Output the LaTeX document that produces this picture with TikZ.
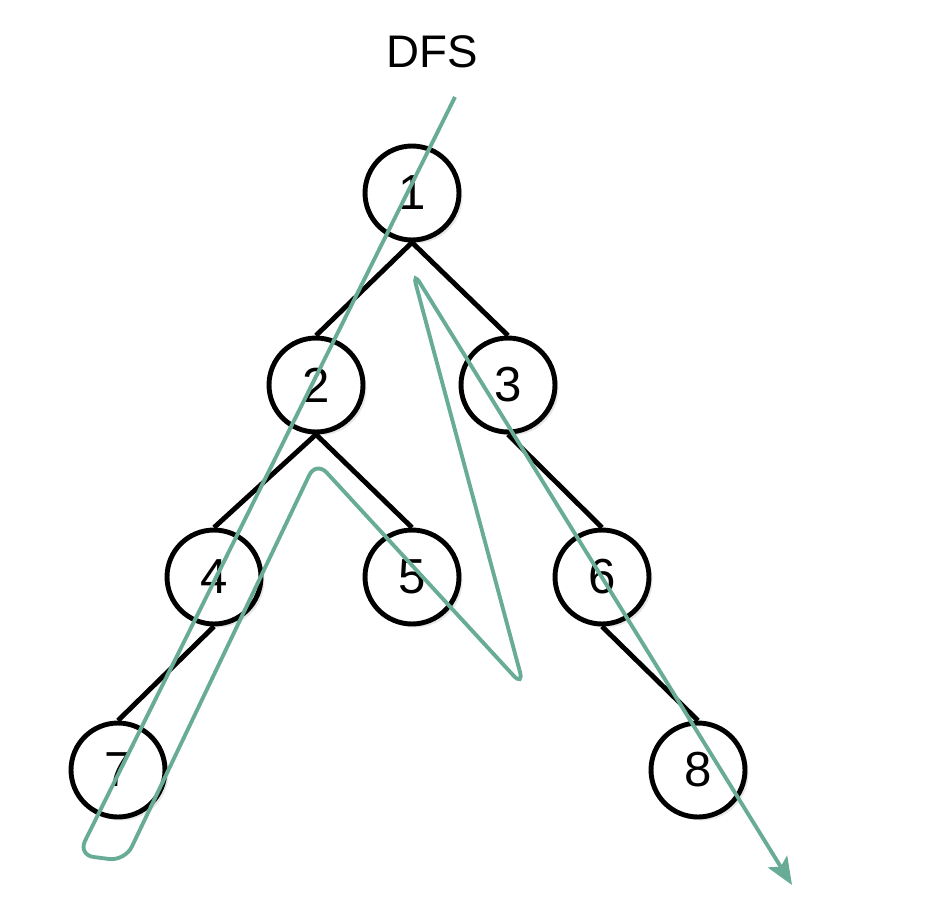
\documentclass[tikz,border=0pt]{standalone}
\usepackage{fontspec}
\setmainfont{Liberation Sans}
\usepackage{tikz}
\usetikzlibrary{positioning, shadows, arrows.meta}

\definecolor{dfsgreen}{RGB}{104,172,152}

\begin{document}
\begin{tikzpicture}[x=0.02cm, y=-0.02cm,
	vertex/.style={draw, circle, line width=2.8pt, minimum size=1.88cm, fill=white, font=\fontsize{28}{30}\selectfont, drop shadow={opacity=0.18, shadow xshift=2pt, shadow yshift=-2pt}},
	branch/.style={line width=2.8pt},
	trace/.style={dfsgreen, line width=2.2pt, rounded corners=9pt}]
	\useasboundingbox (0,0) rectangle (946,919);
	\node at (432,52)[font=\fontsize{26}{30}\selectfont] (title) {DFS};
	\node[vertex] at (412,193) (n1) {1};
	\node[vertex] at (316,385) (n2) {2};
	\node[vertex] at (508,385) (n3) {3};
	\node[vertex] at (214,577) (n4) {4};
	\node[vertex] at (412,577) (n5) {5};
	\node[vertex] at (602,577) (n6) {6};
	\node[vertex] at (118,770) (n7) {7};
	\node[vertex] at (698,770) (n8) {8};
	\draw[branch] (n1.south) -- (n2.north);
	\draw[branch] (n1.south) -- (n3.north);
	\draw[branch] (n2.south) -- (n4.north);
	\draw[branch] (n2.south) -- (n5.north);
	\draw[branch] (n3.south) -- (n6.north);
	\draw[branch] (n4.south) -- (n7.north);
	\draw[branch] (n6.south) -- (n8.north);
	% the search path
	\coordinate (s) at (455,97);
	\coordinate (a) at (78,855);
	\coordinate (b) at (125,861);
	\coordinate (c) at (316,461);
	\coordinate (d) at (524,687);
	\coordinate (e) at (412,270);
	\coordinate (t) at (792,885);
	\draw[trace, -{Stealth[length=0.55cm, width=0.45cm, inset=0.12cm]}] (s) -- (a) -- (b) -- (c) -- (d) -- (e) -- (t);
\end{tikzpicture}
\end{document}
